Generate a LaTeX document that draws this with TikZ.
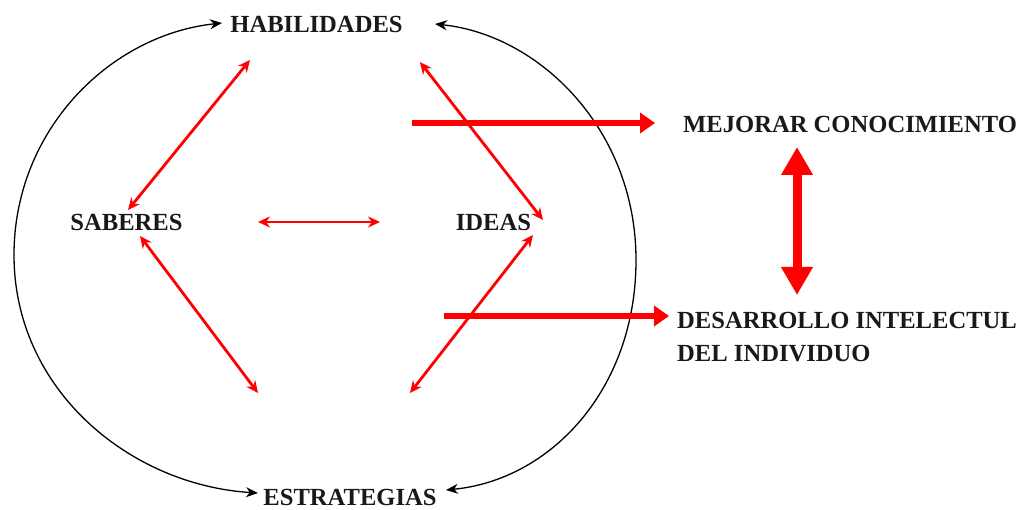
\documentclass[tikz,border=0pt]{standalone}
\usepackage{fontspec}
\setmainfont{Liberation Serif}
\usetikzlibrary{arrows.meta}
\begin{document}
\begin{tikzpicture}[x=1pt,y=-1pt,
  lbl/.style={font=\fontsize{24.6}{33}\selectfont\bfseries, inner sep=0pt, text=black!90},
  arc/.style={draw=black, line width=1.3pt, -{Stealth[length=12pt,width=10pt]}},
  redthin/.style={draw=red, line width=2.8pt, {Stealth[length=12pt,width=11pt]}-{Stealth[length=12pt,width=11pt]}},
  redthick/.style={draw=red, line width=5.5pt, -{Triangle[length=15pt,width=20pt]}},
  redvert/.style={draw=red, line width=9pt, {Triangle[length=28pt,width=30pt]}-{Triangle[length=28pt,width=30pt]}}]
\useasboundingbox (0,0) rectangle (1024,510);
\fill[white] (0,0) rectangle (1024,510);
% labels
\node[lbl, anchor=base] (hab) at (316.5,33) {HABILIDADES};
\node[lbl, anchor=base] (est) at (350,505) {ESTRATEGIAS};
\node[lbl, anchor=base] (sab) at (126.5,231) {SABERES};
\node[lbl, anchor=base] (ide) at (493.5,231) {IDEAS};
\node[lbl, anchor=base west] (mej) at (683,133) {MEJORAR CONOCIMIENTO};
\node[lbl, anchor=north west, align=left] (des) at (677,312) {DESARROLLO INTELECTUL\\DEL INDIVIDUO};
% arc end points
\coordinate (la) at (222,23);
\coordinate (lb) at (258,493);
\coordinate (ra) at (435,24);
\coordinate (rb) at (446,490);
\coordinate (lm) at (14,255);
\coordinate (rm) at (636,260);
\draw[arc] (lm) .. controls (14,130) and (110,35) .. (la);
\draw[arc] (lm) .. controls (14,390) and (130,485) .. (lb);
\draw[arc] (rm) .. controls (636,130) and (540,35) .. (ra);
\draw[arc] (rm) .. controls (636,390) and (550,480) .. (rb);
% thin red arrows
\coordinate (hs1) at (250,60);  \coordinate (hs2) at (128,210);
\coordinate (hi1) at (420,62);  \coordinate (hi2) at (543,220);
\coordinate (se1) at (140,236); \coordinate (se2) at (258,393);
\coordinate (ie1) at (533,235); \coordinate (ie2) at (410,393);
\coordinate (si1) at (258,222); \coordinate (si2) at (380,222);
\draw[redthin] (hs1) -- (hs2);
\draw[redthin] (hi1) -- (hi2);
\draw[redthin] (se1) -- (se2);
\draw[redthin] (ie1) -- (ie2);
\draw[redthin] (si1) -- (si2);
% thick red arrows
\coordinate (m1) at (412,123); \coordinate (m2) at (655,123);
\coordinate (d1) at (444,316); \coordinate (d2) at (669,316);
\draw[redthick] (m1) -- (m2);
\draw[redthick] (d1) -- (d2);
\coordinate (v1) at (797,147); \coordinate (v2) at (797,295);
\draw[redvert] (v1) -- (v2);
\end{tikzpicture}
\end{document}
